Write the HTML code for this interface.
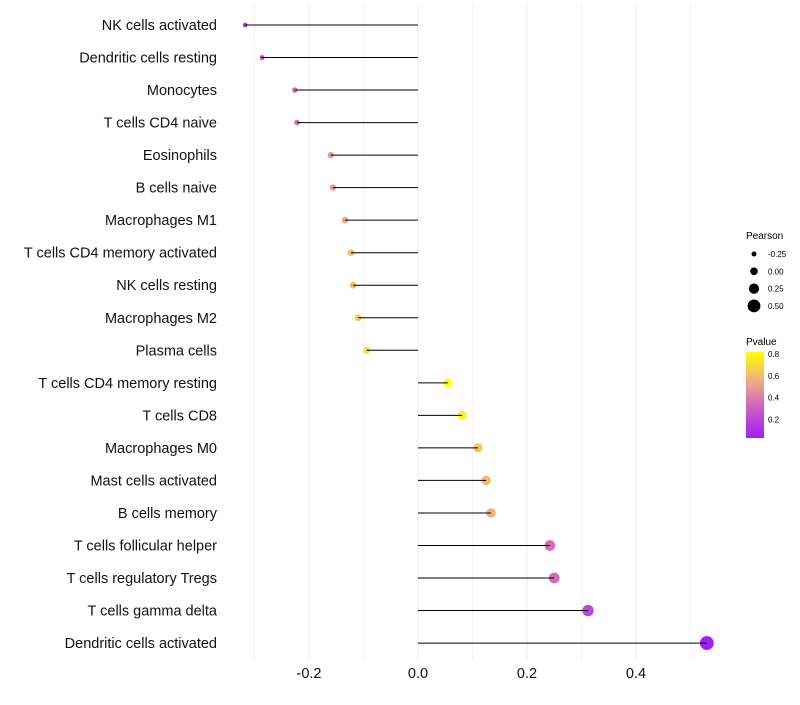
<!DOCTYPE html>
<html><head><meta charset="utf-8"><style>
body{margin:0;background:#fff;font-family:"Liberation Sans",sans-serif}
</style></head><body>
<svg id="chart" width="800" height="700" xmlns="http://www.w3.org/2000/svg">
<defs><linearGradient id="pg" x1="0" y1="1" x2="0" y2="0">
<stop offset="0" stop-color="#a020f0"/><stop offset="0.35" stop-color="#cc5fc4"/><stop offset="0.65" stop-color="#eea98a"/><stop offset="1" stop-color="#ffff00"/>
</linearGradient></defs>
<g id="grid"></g>
<g id="dots"></g>
<g id="marks"></g>
<g id="labels"></g>
<g id="ticks"></g>
<g font-size="10">
<text x="746" y="239" font-size="10">Pearson</text>
<g id="sizeleg"></g>
</g>
<g>
<text x="746" y="345" font-size="10">Pvalue</text>
<rect x="746" y="352" width="18" height="86" fill="url(#pg)"/>
<g id="colleg"></g>
</g>
</svg>
<script>
const categories=["NK cells activated","Dendritic cells resting","Monocytes","T cells CD4 naive","Eosinophils","B cells naive","Macrophages M1","T cells CD4 memory activated","NK cells resting","Macrophages M2","Plasma cells","T cells CD4 memory resting","T cells CD8","Macrophages M0","Mast cells activated","B cells memory","T cells follicular helper","T cells regulatory  Tregs ","T cells gamma delta","Dendritic cells activated"];
const pearson=[-0.317,-0.286,-0.226,-0.222,-0.160,-0.156,-0.134,-0.123,-0.119,-0.110,-0.094,0.055,0.081,0.110,0.125,0.134,0.242,0.250,0.312,0.530];
const pvalue=[0.08,0.15,0.35,0.35,0.5,0.5,0.55,0.6,0.6,0.65,0.7,0.82,0.78,0.65,0.6,0.57,0.35,0.35,0.2,0.03];
const xTicks=[-0.2,0,0.2,0.4];
const xTickLabels=["-0.2","0.0","0.2","0.4"];
const minorTicks=[-0.3,-0.1,0.1,0.3,0.5];
const sizeLegVals=[-0.25,0,0.25,0.5];
const sizeLegLabels=["-0.25","0.00","0.25","0.50"];
const colLegVals=[0.8,0.6,0.4,0.2];
const NS="http://www.w3.org/2000/svg";
const X=v=>418+v*545;
const Y=i=>25+i*32.53;
const R=v=>4+5.5*v;
const P=v=>352+(0.82-v)/0.79*86;
function lerp(a,b,t){return a.map((x,i)=>Math.round(x+(b[i]-x)*t));}
const stops=[[0,[160,32,240]],[0.35,[204,95,196]],[0.65,[238,169,138]],[1,[255,255,0]]];
function col(p){let t=Math.max(0,Math.min(1,(p-0.03)/0.79));for(let i=0;i<3;i++){if(t<=stops[i+1][0]){const c=lerp(stops[i][1],stops[i+1][1],(t-stops[i][0])/(stops[i+1][0]-stops[i][0]));return `rgb(${c})`;}}return "rgb(255,255,0)";}
function mk(tag,attrs,parent){const e=document.createElementNS(NS,tag);for(const k in attrs)e.setAttribute(k,attrs[k]);document.getElementById(parent).appendChild(e);return e;}
xTicks.concat(minorTicks).forEach(v=>{const l=mk("line",{x1:X(v),x2:X(v),y1:5,y2:660,stroke:"#ebebeb","stroke-width":xTicks.includes(v)?1:0.6},"grid");

});
categories.forEach((c,i)=>{const y=Y(i);
const d=mk("circle",{cx:X(pearson[i]),cy:y,r:R(pearson[i]),fill:col(pvalue[i])},"dots");


const ln=mk("line",{x1:X(0),x2:X(pearson[i]),y1:y,y2:y,stroke:"#000","stroke-width":1},"marks");


const t=mk("text",{x:217,y:y+5,"text-anchor":"end","font-size":14.5,fill:"#111"},"labels");t.textContent=c;

});
xTicks.forEach((v,i)=>{const t=mk("text",{x:X(v),y:678,"text-anchor":"middle","font-size":14.5,fill:"#111"},"ticks");t.textContent=xTickLabels[i];

});
sizeLegVals.forEach((v,i)=>{const y=254+i*17.3;
const c=mk("circle",{cx:754,cy:y,r:R(v)*0.95,fill:"#000"},"sizeleg");


const t=mk("text",{x:768,y:y+3,"font-size":8},"sizeleg");t.textContent=sizeLegLabels[i];

});
colLegVals.forEach(v=>{const y=P(v);
const t=mk("text",{x:768,y:y+3,"font-size":8},"colleg");t.textContent=v.toFixed(1);

});
</script>
</body></html>
